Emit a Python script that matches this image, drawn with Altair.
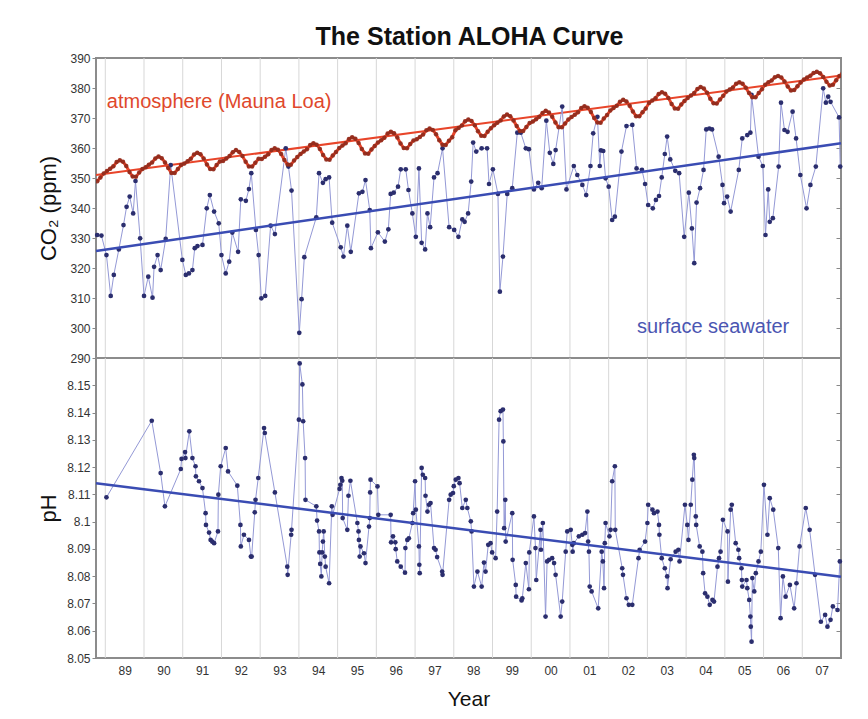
import altair as alt
import pandas as pd

FONT = "Liberation Sans"

# ---- Atmospheric CO2 (Mauna Loa), monthly from Oct 1988 to Jan 2008 ----
ml_start_year = 1988
ml_start_month = 10
ml_co2 = [
    348.9, 350.2, 351.5,
    352.3, 353.1, 353.9, 355.3, 355.9, 355.4, 354.0, 352.0, 350.5, 350.4, 351.8, 353.0,
    353.6, 354.4, 355.2, 356.5, 357.2, 356.6, 355.2, 353.3, 351.7, 351.7, 353.0, 354.3,
    354.8, 355.6, 356.4, 357.8, 358.4, 357.9, 356.5, 354.5, 353.0, 352.9, 354.3, 355.5,
    355.7, 356.5, 357.3, 358.6, 359.3, 358.7, 357.3, 355.4, 353.8, 353.8, 355.1, 356.4,
    356.3, 357.1, 357.9, 359.3, 359.9, 359.4, 358.0, 356.0, 354.5, 354.4, 355.8, 357.0,
    358.0, 358.8, 359.6, 361.0, 361.6, 361.1, 359.7, 357.7, 356.2, 356.1, 357.5, 358.7,
    360.0, 360.8, 361.6, 363.0, 363.6, 363.1, 361.7, 359.7, 358.2, 358.1, 359.5, 360.7,
    361.8, 362.6, 363.4, 364.8, 365.4, 364.9, 363.5, 361.5, 360.0, 359.9, 361.3, 362.5,
    362.9, 363.7, 364.5, 365.9, 366.5, 366.0, 364.6, 362.6, 361.1, 361.0, 362.4, 363.6,
    365.9, 366.7, 367.5, 368.9, 369.5, 369.0, 367.6, 365.6, 364.1, 364.0, 365.4, 366.6,
    367.6, 368.4, 369.2, 370.5, 371.2, 370.6, 369.2, 367.3, 365.7, 365.7, 367.0, 368.3,
    368.8, 369.6, 370.4, 371.7, 372.4, 371.8, 370.4, 368.5, 366.9, 366.9, 368.2, 369.5,
    370.3, 371.1, 371.9, 373.3, 373.9, 373.4, 372.0, 370.0, 368.5, 368.4, 369.8, 371.0,
    372.5, 373.3, 374.1, 375.4, 376.1, 375.5, 374.1, 372.2, 370.6, 370.6, 371.9, 373.2,
    375.0, 375.8, 376.6, 378.0, 378.6, 378.1, 376.7, 374.7, 373.2, 373.1, 374.5, 375.7,
    376.7, 377.5, 378.3, 379.7, 380.3, 379.8, 378.4, 376.4, 374.9, 374.8, 376.2, 377.4,
    378.8, 379.5, 380.2, 381.4, 381.9, 381.4, 380.1, 378.3, 376.9, 376.9, 378.3, 379.6,
    381.1, 381.9, 382.5, 383.6, 384.0, 383.5, 382.2, 380.5, 379.2, 379.3, 380.6, 381.8,
    382.8, 383.5, 384.1, 385.0, 385.4, 384.9, 383.7, 382.1, 380.8, 381.1, 382.6, 384.0,
    384.9,
]

# ---- Surface seawater CO2 at Station ALOHA ----
sw_year = [
    1988.79, 1988.90, 1989.03, 1989.14, 1989.22, 1989.35, 1989.47, 1989.55, 1989.63, 1989.72,
    1989.78, 1989.90, 1990.00, 1990.11, 1990.22, 1990.26, 1990.35, 1990.43, 1990.56, 1990.69,
    1990.99, 1991.08, 1991.16, 1991.25, 1991.31, 1991.38, 1991.51, 1991.62, 1991.70, 1991.81,
    1991.93, 1992.00, 1992.11, 1992.20, 1992.28, 1992.43, 1992.50, 1992.63, 1992.71, 1992.77,
    1992.89, 1992.96, 1993.03, 1993.13, 1993.27, 1993.38, 1993.66, 1993.73, 1993.81, 1994.01,
    1994.07, 1994.14, 1994.45, 1994.52, 1994.62, 1994.69, 1994.78, 1994.86, 1995.08, 1995.15,
    1995.25, 1995.34, 1995.55, 1995.64, 1995.72, 1995.83, 1995.86, 1996.04, 1996.22, 1996.31,
    1996.37, 1996.45, 1996.56, 1996.63, 1996.76, 1996.83, 1996.93, 1997.02, 1997.10, 1997.17,
    1997.26, 1997.32, 1997.39, 1997.49, 1997.58, 1997.71, 1997.88, 1998.01, 1998.12, 1998.22,
    1998.28, 1998.37, 1998.45, 1998.50, 1998.58, 1998.72, 1998.86, 1998.91, 1999.01, 1999.14,
    1999.19, 1999.27, 1999.38, 1999.51, 1999.64, 1999.73, 1999.86, 1999.94, 2000.07, 2000.18,
    2000.27, 2000.39, 2000.48, 2000.57, 2000.63, 2000.80, 2000.91, 2001.10, 2001.19, 2001.32,
    2001.42, 2001.53, 2001.60, 2001.71, 2001.77, 2001.80, 2001.86, 2001.92, 2002.00, 2002.09,
    2002.16, 2002.33, 2002.46, 2002.61, 2002.72, 2002.86, 2002.94, 2003.02, 2003.14, 2003.22,
    2003.30, 2003.37, 2003.45, 2003.51, 2003.59, 2003.72, 2003.82, 2003.95, 2004.07, 2004.15,
    2004.21, 2004.27, 2004.36, 2004.45, 2004.52, 2004.60, 2004.67, 2004.84, 2004.94, 2004.98,
    2005.06, 2005.15, 2005.36, 2005.45, 2005.58, 2005.66, 2005.69, 2005.87, 2005.98, 2006.05,
    2006.12, 2006.16, 2006.24, 2006.39, 2006.45, 2006.54, 2006.62, 2006.75, 2006.84, 2006.95,
    2007.11, 2007.21, 2007.35, 2007.54, 2007.61, 2007.67, 2007.73, 2007.95, 2007.98,
]
sw_co2 = [
    331.0, 330.8, 324.3, 310.7, 317.7, 326.2, 334.3, 340.4, 343.8, 338.2,
    349.0, 329.9, 310.7, 317.1, 310.1, 320.4, 324.3, 319.3, 329.7, 354.3,
    322.7, 317.7, 318.2, 319.3, 326.6, 327.3, 327.7, 339.9, 344.3, 338.8,
    334.9, 324.3, 318.2, 322.1, 331.8, 325.4, 342.9, 342.4, 346.3, 351.6,
    332.7, 324.3, 309.9, 310.7, 334.1, 331.3, 359.9, 353.8, 345.8, 298.4,
    309.6, 323.6, 336.9, 351.6, 348.4, 349.6, 350.2, 335.1, 326.9, 323.8,
    334.1, 325.4, 344.9, 345.4, 349.3, 339.3, 326.6, 331.9, 328.8, 332.9,
    344.7, 345.1, 347.1, 352.9, 352.9, 346.0, 338.2, 330.4, 353.2, 328.4,
    326.2, 338.2, 333.6, 350.2, 351.6, 359.9, 333.6, 332.7, 330.4, 336.2,
    335.4, 338.2, 348.8, 361.8, 358.8, 359.9, 359.9, 348.0, 352.9, 344.7,
    312.1, 323.8, 344.7, 346.6, 365.1, 365.1, 359.9, 359.6, 346.2, 348.4,
    346.6, 369.1, 358.4, 354.7, 359.3, 373.8, 346.2, 354.0, 351.0, 347.7,
    344.3, 354.0, 364.9, 370.4, 354.0, 359.2, 359.0, 349.9, 347.1, 336.0,
    337.1, 358.8, 367.3, 367.7, 353.2, 352.7, 348.0, 341.0, 339.9, 342.7,
    344.0, 350.2, 358.0, 363.8, 356.2, 352.4, 351.6, 330.4, 345.1, 333.2,
    321.6, 341.8, 346.6, 352.7, 366.2, 366.5, 366.2, 357.1, 347.7, 341.6,
    343.8, 338.8, 352.7, 363.2, 364.3, 365.1, 377.7, 357.1, 354.0, 331.0,
    346.2, 335.4, 336.6, 353.8, 375.1, 366.0, 365.4, 372.1, 363.2, 351.0,
    339.9, 347.7, 353.8, 379.9, 375.1, 377.1, 375.4, 370.2, 353.8,
]

# ---- Surface seawater pH ----
ph_year = [
    1989.03, 1990.20, 1990.43, 1990.54, 1990.95, 1990.97, 1991.06, 1991.07, 1991.17, 1991.25,
    1991.33, 1991.34, 1991.42, 1991.51, 1991.59, 1991.60, 1991.68, 1991.72, 1991.76, 1991.81,
    1991.91, 1991.92, 1991.98, 1992.11, 1992.17, 1992.41, 1992.49, 1992.50, 1992.58, 1992.71,
    1992.76, 1992.78, 1992.86, 1992.88, 1992.95, 1993.10, 1993.12, 1993.38, 1993.70, 1993.71,
    1993.80, 1993.81, 1994.00, 1994.02, 1994.09, 1994.11, 1994.16, 1994.17, 1994.45, 1994.47,
    1994.52, 1994.53, 1994.55, 1994.58, 1994.60, 1994.62, 1994.64, 1994.67, 1994.69, 1994.78,
    1994.85, 1994.87, 1995.05, 1995.07, 1995.10, 1995.12, 1995.13, 1995.25, 1995.28, 1995.33,
    1995.51, 1995.54, 1995.55, 1995.57, 1995.59, 1995.68, 1995.72, 1995.81, 1995.83, 1995.84,
    1995.85, 1996.03, 1996.05, 1996.37, 1996.38, 1996.43, 1996.49, 1996.50, 1996.54, 1996.63,
    1996.74, 1996.75, 1996.80, 1996.84, 1996.93, 1996.95, 1997.00, 1997.02, 1997.10, 1997.11,
    1997.12, 1997.17, 1997.20, 1997.26, 1997.27, 1997.32, 1997.36, 1997.40, 1997.49, 1997.53,
    1997.57, 1997.70, 1997.71, 1997.88, 1997.92, 1997.98, 1998.00, 1998.05, 1998.12, 1998.15,
    1998.22, 1998.31, 1998.35, 1998.44, 1998.46, 1998.52, 1998.61, 1998.72, 1998.78, 1998.82,
    1998.89, 1998.95, 1998.99, 1999.08, 1999.12, 1999.17, 1999.21, 1999.27, 1999.28, 1999.30,
    1999.33, 1999.34, 1999.51, 1999.52, 1999.60, 1999.61, 1999.75, 1999.77, 1999.86, 1999.94,
    1999.95, 2000.07, 2000.11, 2000.13, 2000.24, 2000.25, 2000.30, 2000.37, 2000.41, 2000.46,
    2000.54, 2000.59, 2000.63, 2000.76, 2000.80, 2000.89, 2000.93, 2001.02, 2001.06, 2001.07,
    2001.10, 2001.23, 2001.32, 2001.39, 2001.45, 2001.47, 2001.49, 2001.51, 2001.56, 2001.73,
    2001.82, 2001.85, 2001.88, 2001.90, 2001.92, 2002.02, 2002.05, 2002.09, 2002.16, 2002.17,
    2002.35, 2002.37, 2002.46, 2002.52, 2002.61, 2002.77, 2002.80, 2002.94, 2003.00, 2003.02,
    2003.13, 2003.17, 2003.26, 2003.30, 2003.31, 2003.37, 2003.45, 2003.51, 2003.52, 2003.60,
    2003.73, 2003.80, 2003.83, 2003.97, 2004.03, 2004.06, 2004.12, 2004.16, 2004.20, 2004.21,
    2004.25, 2004.26, 2004.35, 2004.42, 2004.44, 2004.49, 2004.55, 2004.61, 2004.68, 2004.72,
    2004.81, 2004.85, 2004.89, 2004.95, 2005.07, 2005.08, 2005.15, 2005.18, 2005.28, 2005.35,
    2005.37, 2005.43, 2005.44, 2005.45, 2005.56, 2005.58, 2005.63, 2005.66, 2005.67, 2005.69,
    2005.71, 2005.76, 2005.80, 2005.87, 2005.93, 2006.01, 2006.10, 2006.16, 2006.25, 2006.38,
    2006.44, 2006.50, 2006.57, 2006.68, 2006.79, 2006.85, 2006.93, 2007.09, 2007.19, 2007.33,
    2007.48, 2007.59, 2007.65, 2007.73, 2007.79, 2007.91, 2007.97,
]
ph_value = [
    8.1089, 8.1370, 8.1178, 8.1056, 8.1193, 8.1230, 8.1255, 8.1233, 8.1331, 8.1233,
    8.1203, 8.1166, 8.1148, 8.1123, 8.1031, 8.0988, 8.0960, 8.0933, 8.0927, 8.0921,
    8.0964, 8.1099, 8.1203, 8.1270, 8.1184, 8.1132, 8.0988, 8.0909, 8.0952, 8.0933,
    8.0872, 8.0872, 8.1034, 8.1080, 8.1160, 8.1343, 8.1325, 8.1107, 8.0835, 8.0805,
    8.0952, 8.0970, 8.1374, 8.1580, 8.1503, 8.1368, 8.1233, 8.1080, 8.1056, 8.1004,
    8.0964, 8.0887, 8.0845, 8.0799, 8.0887, 8.0927, 8.0964, 8.0872, 8.0835, 8.0774,
    8.1056, 8.1025, 8.1120, 8.1135, 8.1160, 8.1150, 8.1013, 8.0970, 8.1095, 8.1150,
    8.0995, 8.0964, 8.0933, 8.0872, 8.0909, 8.0884, 8.0848, 8.0982, 8.1013, 8.1107,
    8.1154, 8.1129, 8.1025, 8.1025, 8.0924, 8.0946, 8.0924, 8.0899, 8.0854, 8.0835,
    8.0813, 8.0903, 8.0933, 8.0939, 8.0995, 8.1031, 8.1148, 8.1044, 8.0909, 8.0842,
    8.0811, 8.1197, 8.1172, 8.1160, 8.1095, 8.1037, 8.1062, 8.1068, 8.0903, 8.0897,
    8.0870, 8.0817, 8.0805, 8.1080, 8.1099, 8.1105, 8.1130, 8.1154, 8.1160, 8.1141,
    8.1050, 8.1080, 8.1050, 8.1001, 8.0964, 8.0762, 8.0817, 8.0762, 8.0850, 8.0817,
    8.0915, 8.0921, 8.0887, 8.0866, 8.1037, 8.1374, 8.1405, 8.1411, 8.1294, 8.0976,
    8.1080, 8.0927, 8.1031, 8.0860, 8.0768, 8.0725, 8.0711, 8.0719, 8.0848, 8.0752,
    8.0887, 8.1019, 8.0903, 8.0786, 8.0970, 8.0897, 8.0995, 8.0652, 8.0854, 8.0860,
    8.0866, 8.0848, 8.0805, 8.0652, 8.0707, 8.0890, 8.0964, 8.0970, 8.0915, 8.0890,
    8.0921, 8.0946, 8.0952, 8.0958, 8.1037, 8.0927, 8.0890, 8.0762, 8.0744, 8.0682,
    8.0890, 8.0854, 8.0756, 8.0921, 8.0995, 8.0946, 8.0970, 8.1148, 8.1203, 8.0970,
    8.0829, 8.0805, 8.0719, 8.0695, 8.0695, 8.0866, 8.0897, 8.0927, 8.0995, 8.1062,
    8.1044, 8.1031, 8.1037, 8.0988, 8.0952, 8.0866, 8.0829, 8.0799, 8.0756, 8.0862,
    8.0890, 8.0897, 8.0854, 8.1062, 8.0988, 8.0933, 8.1062, 8.1154, 8.1245, 8.1233,
    8.1019, 8.0988, 8.0909, 8.0890, 8.0811, 8.0737, 8.0725, 8.0695, 8.0713, 8.0707,
    8.0835, 8.0866, 8.0890, 8.1007, 8.0964, 8.0780, 8.1044, 8.1062, 8.0921, 8.0897,
    8.0866, 8.0829, 8.0786, 8.0762, 8.0786, 8.0756, 8.0713, 8.0652, 8.0615, 8.0560,
    8.0793, 8.0744, 8.0811, 8.0854, 8.0890, 8.1135, 8.0952, 8.1086, 8.1044, 8.0903,
    8.0646, 8.0799, 8.0725, 8.0768, 8.0682, 8.0774, 8.0909, 8.1050, 8.0970, 8.0805,
    8.0633, 8.0658, 8.0615, 8.0640, 8.0689, 8.0676, 8.0854,
]

# ---- Trend lines (end points) ----
trend_year = [1988.76, 2008.0]
atm_trend = [351.0, 384.2]
sw_trend = [325.7, 361.6]
ph_trend = [8.1141, 8.0798]

# ---- Axis / layout values ----
x_domain = [1988.76, 2008.0]
grid_years = list(range(1989, 2008))
label_years = [y + 0.5 for y in range(1989, 2008)]
co2_ticks = list(range(290, 391, 10))
ph_ticks = [8.05, 8.06, 8.07, 8.08, 8.09, 8.10, 8.11, 8.12, 8.13, 8.14, 8.15, 8.16]
ph_label_ticks = ph_ticks[:-1]

# ---- Tables ----
ml_t = []
y, m = ml_start_year, ml_start_month
for _ in ml_co2:
    ml_t.append(y + (m - 0.5) / 12.0)
    m += 1
    if m > 12:
        m = 1
        y += 1
ml_df = pd.DataFrame({"t": ml_t, "v": ml_co2})
sw_df = pd.DataFrame({"t": sw_year, "v": sw_co2})
ph_df = pd.DataFrame({"t": ph_year, "v": ph_value})
trend_df = pd.DataFrame({"t": trend_year, "atm": atm_trend, "sw": sw_trend, "ph": ph_trend})
grid_df = pd.DataFrame({"t": grid_years})
atm_label = pd.DataFrame({"t": [1989.04], "v": [375.2], "txt": ["atmosphere (Mauna Loa)"]})
sw_label = pd.DataFrame({"t": [2002.73], "v": [300.2], "txt": ["surface seawater"]})

W, H = 745, 300
xs = alt.Scale(domain=x_domain, nice=False, zero=False)
ys_co2 = alt.Scale(domain=[290, 390], nice=False, zero=False)
ys_ph = alt.Scale(domain=[8.05, 8.16], nice=False, zero=False)

RED_LINE = "#e8452a"
RED_DOT = "#8e2a1c"
BLUE_THIN = "#9499d6"
NAVY_DOT = "#2b2e6e"
BLUE_TREND = "#3a4cb3"

left_axis_common = dict(
    grid=False, domain=False, tickSize=4, tickColor="#888888", labelPadding=2,
    labelFontSize=12, labelColor="#333333", labelFont=FONT,
    titleFont=FONT, titleFontSize=22, titleFontWeight="normal", titleColor="#111111",
    titlePadding=6, minExtent=30,
)
right_axis_common = dict(
    orient="right", labels=False, domain=False, title=None, grid=False,
    tickSize=5, offset=-5, tickColor="#888888",
)

# ---------------- Top panel ----------------
g_top = alt.Chart(grid_df).mark_rule(color="#d7d7d7", strokeWidth=1).encode(
    x=alt.X("t:Q", scale=xs, axis=None)
)
atm_tr = alt.Chart(trend_df).mark_line(color=RED_LINE, strokeWidth=2).encode(
    x=alt.X("t:Q", scale=xs, axis=None),
    y=alt.Y("atm:Q", scale=ys_co2, axis=alt.Axis(values=co2_ticks, title="CO₂ (ppm)", **left_axis_common)),
)
sw_tr = alt.Chart(trend_df).mark_line(color=BLUE_TREND, strokeWidth=2.5).encode(
    x=alt.X("t:Q", scale=xs, axis=None),
    y=alt.Y("sw:Q", scale=ys_co2, axis=None),
)
sw_line = alt.Chart(sw_df).mark_line(color=BLUE_THIN, strokeWidth=1).encode(
    x=alt.X("t:Q", scale=xs, axis=None),
    y=alt.Y("v:Q", scale=ys_co2, axis=alt.Axis(values=co2_ticks, **right_axis_common)),
)
sw_pts = alt.Chart(sw_df).mark_circle(color=NAVY_DOT, size=22, opacity=1).encode(
    x=alt.X("t:Q", scale=xs, axis=None),
    y=alt.Y("v:Q", scale=ys_co2, axis=None),
)
ml_line = alt.Chart(ml_df).mark_line(color=RED_LINE, strokeWidth=3, clip=True).encode(
    x=alt.X("t:Q", scale=xs, axis=None),
    y=alt.Y("v:Q", scale=ys_co2, axis=None),
)
ml_pts = alt.Chart(ml_df).mark_circle(color=RED_DOT, size=20, opacity=0.9, clip=True).encode(
    x=alt.X("t:Q", scale=xs, axis=None),
    y=alt.Y("v:Q", scale=ys_co2, axis=None),
)
atm_txt = alt.Chart(atm_label).mark_text(
    color="#e0482c", fontSize=20, font=FONT, align="left", baseline="middle"
).encode(x=alt.X("t:Q", scale=xs, axis=None), y=alt.Y("v:Q", scale=ys_co2, axis=None), text="txt:N")
sw_txt = alt.Chart(sw_label).mark_text(
    color="#4b56b2", fontSize=20, font=FONT, align="left", baseline="middle"
).encode(x=alt.X("t:Q", scale=xs, axis=None), y=alt.Y("v:Q", scale=ys_co2, axis=None), text="txt:N")

top = alt.layer(
    g_top, atm_tr, sw_line, sw_pts, sw_tr, ml_line, ml_pts, atm_txt, sw_txt
).resolve_axis(y="independent").properties(width=W, height=H)

# ---------------- Bottom panel ----------------
g_bot = alt.Chart(grid_df).mark_rule(color="#d7d7d7", strokeWidth=1).encode(
    x=alt.X(
        "t:Q", scale=xs,
        axis=alt.Axis(
            values=label_years, ticks=False, domain=False, grid=False,
            labelExpr="(floor(datum.value) % 100 < 10 ? '0' : '') + (floor(datum.value) % 100)",
            labelFontSize=12, labelColor="#333333", labelFont=FONT, labelPadding=7,
            title="Year", titleFont=FONT, titleFontSize=21, titleFontWeight="normal",
            titleColor="#111111", titlePadding=12,
        ),
    )
)
ph_tr = alt.Chart(trend_df).mark_line(color=BLUE_TREND, strokeWidth=2.5).encode(
    x=alt.X("t:Q", scale=xs),
    y=alt.Y("ph:Q", scale=ys_ph, axis=alt.Axis(values=ph_label_ticks, format=".2~f", title="pH", **left_axis_common)),
)
ph_line = alt.Chart(ph_df).mark_line(color=BLUE_THIN, strokeWidth=1).encode(
    x=alt.X("t:Q", scale=xs),
    y=alt.Y("v:Q", scale=ys_ph, axis=alt.Axis(values=ph_label_ticks, **right_axis_common)),
)
ph_pts = alt.Chart(ph_df).mark_circle(color=NAVY_DOT, size=22, opacity=1).encode(
    x=alt.X("t:Q", scale=xs),
    y=alt.Y("v:Q", scale=ys_ph, axis=None),
)

bottom = alt.layer(g_bot, ph_line, ph_pts, ph_tr).resolve_axis(y="independent").properties(width=W, height=H)

chart = alt.vconcat(top, bottom, spacing=0, bounds="flush").resolve_scale(y="independent").properties(
    title=alt.TitleParams(
        "The Station ALOHA Curve", fontSize=25, font=FONT, fontWeight="bold",
        color="#111111", anchor="middle", offset=1, dx=28,
    ),
    padding={"left": 28, "top": 17, "right": 5, "bottom": 5},
    background="white",
).configure_view(stroke="#8c8c8c", strokeWidth=2)

chart.save("out.html", embed_options={"renderer": "svg", "actions": False})
